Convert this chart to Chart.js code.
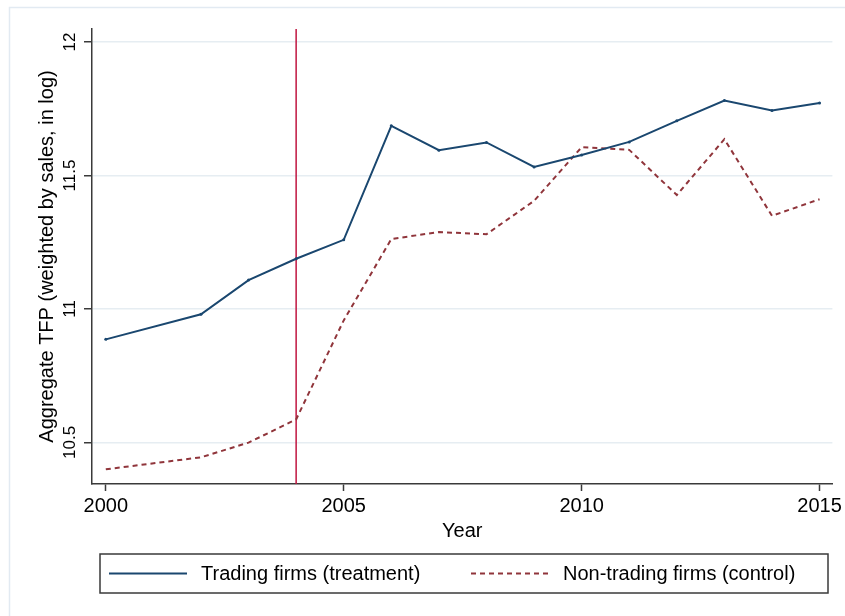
<!DOCTYPE html>
<html>
<head>
<meta charset="utf-8">
<script src="https://cdn.jsdelivr.net/npm/chart.js@4.4.0/dist/chart.umd.min.js"></script>
<style>
  html, body { margin: 0; padding: 0; background: #fff; }
  canvas { display: block; }
</style>
</head>
<body>
<canvas id="tfp-chart" width="845" height="616"></canvas>
<script>
const years = [2000, 2002, 2003, 2004, 2005, 2006, 2007, 2008, 2009, 2010, 2011, 2012, 2013, 2014, 2015];
const tradingTfp = [10.886, 10.98, 11.108, 11.188, 11.259, 11.686, 11.595, 11.624, 11.532, 11.577, 11.626, 11.705, 11.781, 11.744, 11.772];
const nonTradingTfp = [10.399, 10.444, 10.499, 10.586, 10.957, 11.262, 11.288, 11.280, 11.405, 11.606, 11.596, 11.427, 11.636, 11.349, 11.411];
const seriesNames = ['Trading firms (treatment)', 'Non-trading firms (control)'];
const xTickYears = [2000, 2005, 2010, 2015];
const yTickValues = [10.5, 11, 11.5, 12];
const treatmentYear = 2004;

const FONT = '"Liberation Sans", Arial, Helvetica, sans-serif';
const navy = '#1a476f';
const maroon = '#90353b';
const axisColor = '#3a3a3a';

function toPoints(ys) {
    return years.map((yr, i) => ({ x: yr, y: ys[i] }));
}

// light frame of the graph region
const regionFrame = {
    id: 'regionFrame',
    beforeDraw(chart) {
        const ctx = chart.ctx;
        ctx.save();
        ctx.fillStyle = '#fff';
        ctx.fillRect(0, 0, chart.width, chart.height);
        ctx.strokeStyle = '#e2eaf2';
        ctx.lineWidth = 1.5;
        ctx.strokeRect(9.5, 7.5, chart.width + 20, chart.height + 20);
        ctx.restore();
    }
};

// vertical line at the treatment year
const treatLine = {
    id: 'treatLine',
    beforeDatasetsDraw(chart) {
        const { ctx, chartArea, scales: { x } } = chart;
        const px = x.getPixelForValue(treatmentYear);
        ctx.save();
        ctx.strokeStyle = '#c01540';
        ctx.lineWidth = 1.5;
        ctx.beginPath();
        ctx.moveTo(px, chartArea.top);
        ctx.lineTo(px, chartArea.bottom);
        ctx.stroke();
        ctx.restore();
    }
};

// stata style rotated y labels + boxed legend
const stataBits = {
    id: 'stataBits',
    afterDraw(chart) {
        const { ctx, chartArea, scales: { y } } = chart;
        ctx.save();
        ctx.fillStyle = '#000';
        ctx.font = '17px ' + FONT;
        ctx.textAlign = 'center';
        ctx.textBaseline = 'middle';
        y.ticks.forEach(t => {
            const py = y.getPixelForValue(t.value);
            ctx.save();
            ctx.translate(chartArea.left - 22, py);
            ctx.rotate(-Math.PI / 2);
            ctx.fillText(String(t.value), 0, 0);
            ctx.restore();
        });

        // legend box
        ctx.strokeStyle = axisColor;
        ctx.lineWidth = 1.5;
        ctx.strokeRect(100, 554, 728, 39);
        const ly = 573.5;
        const items = [
            { x0: 109, x1: 187, tx: 201 },
            { x0: 471, x1: 550, tx: 563 }
        ];
        ctx.font = '20px ' + FONT;
        ctx.textAlign = 'left';
        chart.data.datasets.forEach((ds, i) => {
            const it = items[i];
            ctx.strokeStyle = ds.borderColor;
            ctx.lineWidth = ds.borderWidth;
            ctx.setLineDash(ds.borderDash || []);
            ctx.beginPath();
            ctx.moveTo(it.x0, ly);
            ctx.lineTo(it.x1, ly);
            ctx.stroke();
            ctx.setLineDash([]);
            ctx.fillStyle = '#000';
            ctx.fillText(ds.label, it.tx, ly + 1);
        });
        ctx.restore();
    }
};

new Chart(document.getElementById('tfp-chart').getContext('2d'), {
    type: 'line',
    data: {
        datasets: [{
            label: seriesNames[0],
            data: toPoints(tradingTfp),
            borderColor: navy,
            backgroundColor: navy,
            borderWidth: 2,
            pointRadius: 1.5,
            pointBorderWidth: 0,
            tension: 0
        }, {
            label: seriesNames[1],
            data: toPoints(nonTradingTfp),
            borderColor: maroon,
            backgroundColor: maroon,
            borderWidth: 2,
            borderDash: [5, 4],
            pointRadius: 0,
            tension: 0
        }]
    },
    options: {
        responsive: false,
        devicePixelRatio: 1,
        animation: false,
        layout: { padding: { left: 25, right: 11, top: 29, bottom: 72 } },
        plugins: {
            legend: { display: false },
            tooltip: { enabled: false }
        },
        scales: {
            x: {
                type: 'linear',
                min: 1999.71,
                max: 2015.27,
                afterBuildTicks: s => { s.ticks = xTickYears.map(v => ({ value: v })); },
                afterFit: s => { s.height = 60; },
                ticks: {
                    font: { family: FONT, size: 20 },
                    color: '#000',
                    padding: 3,
                    maxRotation: 0,
                    callback: v => String(v)
                },
                grid: {
                    drawOnChartArea: false,
                    tickLength: 7,
                    tickColor: axisColor,
                    tickWidth: 1.5
                },
                border: { color: axisColor, width: 1.5 },
                title: {
                    display: true,
                    text: 'Year',
                    color: '#000',
                    font: { family: FONT, size: 20 },
                    padding: { top: 0, bottom: 1 }
                }
            },
            y: {
                min: 10.344,
                max: 12.049,
                afterBuildTicks: s => { s.ticks = yTickValues.map(v => ({ value: v })); },
                afterFit: s => { s.width = 67; },
                ticks: { display: false },
                grid: {
                    color: '#e6edf2',
                    lineWidth: 1.5,
                    tickLength: 8,
                    tickColor: axisColor,
                    tickWidth: 1.5
                },
                border: { color: axisColor, width: 1.5 },
                title: {
                    display: true,
                    text: 'Aggregate TFP (weighted by sales, in log)',
                    color: '#000',
                    font: { family: FONT, size: 20 },
                    padding: { top: 10, bottom: 0 }
                }
            }
        }
    },
    plugins: [regionFrame, treatLine, stataBits]
});
</script>
</body>
</html>
